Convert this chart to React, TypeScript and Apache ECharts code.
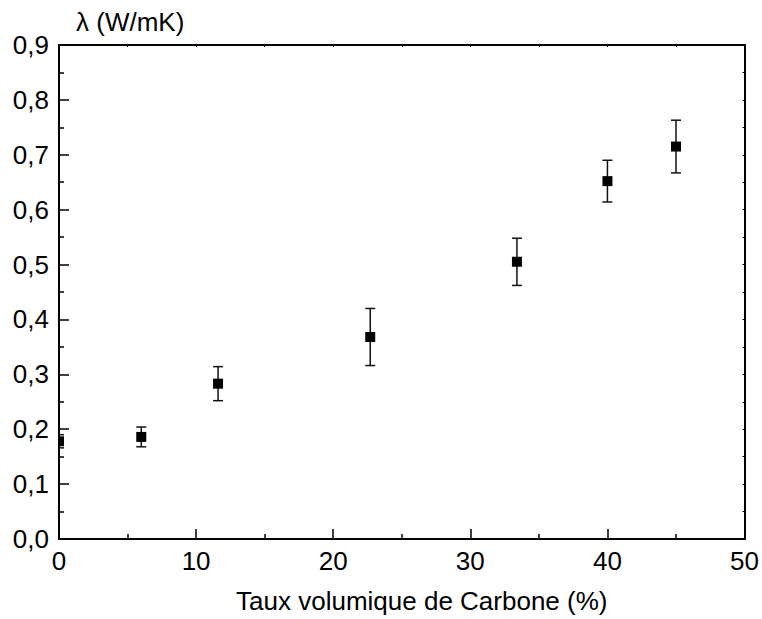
import React, { useEffect, useRef } from "react";
import * as echarts from "echarts";

const xValues = [0, 6, 11.6, 22.7, 33.4, 40, 45];
const yValues = [0.178, 0.186, 0.283, 0.368, 0.505, 0.652, 0.715];
const yErrors = [0.012, 0.018, 0.031, 0.052, 0.043, 0.038, 0.048];

const xTitle = "Taux volumique de Carbone (%)";
const yTitle = "λ (W/mK)";

const FONT = "'Liberation Sans', Arial, Helvetica, sans-serif";
const FS = 26;

export default function App() {
  const ref = useRef<HTMLDivElement>(null);
  useEffect(() => {
    if (!ref.current) return;
    const chart = echarts.init(ref.current, undefined, { renderer: "svg" });
    const data = xValues.map((x, i) => [x, yValues[i], yErrors[i]]);
    const mainAxisLine = { show: true, onZero: false, lineStyle: { color: "#000", width: 2 } };
    const option: any = {
      animation: false,
      backgroundColor: "#fff",
      grid: { left: 59, right: 16, top: 45, bottom: 78, containLabel: false },
      graphic: [
        {
          type: "text",
          left: 76,
          top: 9,
          style: { text: yTitle, font: `${FS}px ${FONT}`, fill: "#000" },
        },
      ],
      xAxis: [
        {
          type: "value",
          position: "bottom",
          min: 0,
          max: 50,
          interval: 10,
          axisLine: mainAxisLine,
          axisTick: { show: true, inside: true, length: 10, lineStyle: { color: "#000", width: 1.5 } },
          minorTick: { show: true, splitNumber: 2, length: 5, lineStyle: { color: "#000", width: 1.5 } },
          splitLine: { show: false },
          axisLabel: { margin: 9, color: "#000", fontSize: FS, fontFamily: FONT },
          name: xTitle,
          nameLocation: "middle",
          nameGap: 49,
          nameTextStyle: { color: "#000", fontSize: FS, fontFamily: FONT, padding: [0, 0, 0, 40] },
        },
        {
          type: "value",
          position: "top",
          min: 0,
          max: 50,
          interval: 10,
          axisLine: mainAxisLine,
          axisTick: { show: true, inside: true, length: 2, lineStyle: { color: "#000", width: 1 } },
          minorTick: { show: true, splitNumber: 2, length: 2, lineStyle: { color: "#000", width: 1 } },
          splitLine: { show: false },
          axisLabel: { show: false },
        },
      ],
      yAxis: [
        {
          type: "value",
          position: "left",
          min: 0,
          max: 0.9,
          interval: 0.1,
          axisLine: mainAxisLine,
          axisTick: { show: true, inside: true, length: 10, lineStyle: { color: "#000", width: 1.5 } },
          minorTick: { show: true, splitNumber: 2, length: 5, lineStyle: { color: "#000", width: 1.5 } },
          splitLine: { show: false },
          axisLabel: {
            margin: 10,
            color: "#000",
            fontSize: FS,
            fontFamily: FONT,
            formatter: (v: number) => v.toFixed(1).replace(".", ","),
          },
        },
        {
          type: "value",
          position: "right",
          min: 0,
          max: 0.9,
          interval: 0.1,
          axisLine: mainAxisLine,
          axisTick: { show: true, inside: true, length: 2, lineStyle: { color: "#000", width: 1 } },
          minorTick: { show: true, splitNumber: 2, length: 2, lineStyle: { color: "#000", width: 1 } },
          splitLine: { show: false },
          axisLabel: { show: false },
        },
      ],
      series: [
        {
          type: "custom",
          xAxisIndex: 0,
          yAxisIndex: 0,
          clip: true,
          data,
          renderItem: (params: any, api: any) => {
            const x = api.value(0);
            const y = api.value(1);
            const e = api.value(2);
            const c = api.coord([x, y]);
            const t = api.coord([x, y + e]);
            const b = api.coord([x, y - e]);
            const cap = 5;
            const half = 5;
            const st = { stroke: "#111", lineWidth: 1.5 };
            return {
              type: "group",
              children: [
                { type: "line", shape: { x1: c[0], y1: t[1], x2: c[0], y2: b[1] }, style: st },
                { type: "line", shape: { x1: c[0] - cap, y1: t[1], x2: c[0] + cap, y2: t[1] }, style: st },
                { type: "line", shape: { x1: c[0] - cap, y1: b[1], x2: c[0] + cap, y2: b[1] }, style: st },
                {
                  type: "rect",
                  shape: { x: c[0] - half, y: c[1] - half, width: half * 2, height: half * 2 },
                  style: { fill: "#000" },
                },
              ],
            };
          },
        },
      ],
    };
    chart.setOption(option);
    return () => chart.dispose();
  }, []);
  return (
    <div
      ref={ref}
      style={{ position: "fixed", left: 0, top: 0, width: 762, height: 619, background: "#fff" }}
    />
  );
}
